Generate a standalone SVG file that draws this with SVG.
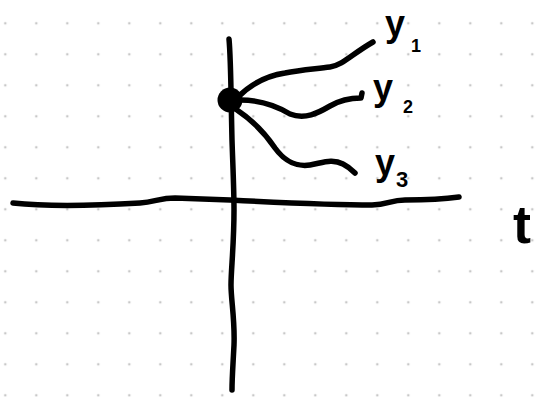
<svg xmlns="http://www.w3.org/2000/svg" width="555" height="397" viewBox="0 0 555 397">
  <defs>
    <pattern id="dots" x="5.3" y="23.3" width="31" height="31" patternUnits="userSpaceOnUse">
      <circle cx="0" cy="0" r="1.3" fill="#c8c8c8"/>
      <circle cx="31" cy="0" r="1.3" fill="#c8c8c8"/>
      <circle cx="0" cy="31" r="1.3" fill="#c8c8c8"/>
      <circle cx="31" cy="31" r="1.3" fill="#c8c8c8"/>
    </pattern>
    <style>
      .ink { fill: none; stroke: #000; stroke-width: 5.5; stroke-linecap: round; stroke-linejoin: round; }
      .lbl { font-family: "Liberation Sans", "DejaVu Sans", sans-serif; font-weight: bold; fill: #000; }
    </style>
  </defs>
  <rect width="555" height="397" fill="#fff"/>
  <rect x="-10" y="-10" width="575" height="417" fill="url(#dots)"/>

  <g id="axes">
    <path id="t-axis" class="ink" d="M13,203 C40,206 90,206 140,203 C155,202 160,198 175,198 L230,200 C270,202 330,205 372,205 C388,205 390,200 405,200 C430,200 445,199 459,197"/>
    <path id="y-axis" class="ink" d="M229,39 C231,60 231,100 232,140 C233,170 234,190 234,210 C234,245 231,270 231,285 C231,300 235,320 234,345 C233,365 232,378 232,390"/>
  </g>

  <g id="curves">
    <path id="curve-y1" class="ink" d="M238,97 C250,85 265,76 285,73 C300,70 315,69 330,67 C343,65 352,54 373,42"/>
    <path id="curve-y2" class="ink" d="M240,100 C258,100 275,105 290,114 C305,120 318,113 330,106 C342,99 352,98 361,98 L362,93"/>
    <path id="curve-y3" class="ink" d="M237,110 C252,120 265,133 275,148 C285,162 298,167 310,165 C322,163 332,158 343,164 C349,167 352,170 355,173"/>
  </g>

  <g id="origin-point">
    <circle cx="230" cy="100" r="12.5" fill="#000"/>
  </g>

  <g id="labels">
    <text id="label-y1" class="lbl" x="385" y="36" font-size="36">y<tspan font-size="18" dx="6" dy="16">1</tspan></text>
    <text id="label-y2" class="lbl" x="373" y="100" font-size="36">y<tspan font-size="18" dx="10" dy="13">2</tspan></text>
    <text id="label-y3" class="lbl" x="375" y="175" font-size="36">y<tspan font-size="22" dx="1" dy="12">3</tspan></text>
    <text id="label-t" class="lbl" x="513" y="243" font-size="54">t</text>
  </g>
</svg>
